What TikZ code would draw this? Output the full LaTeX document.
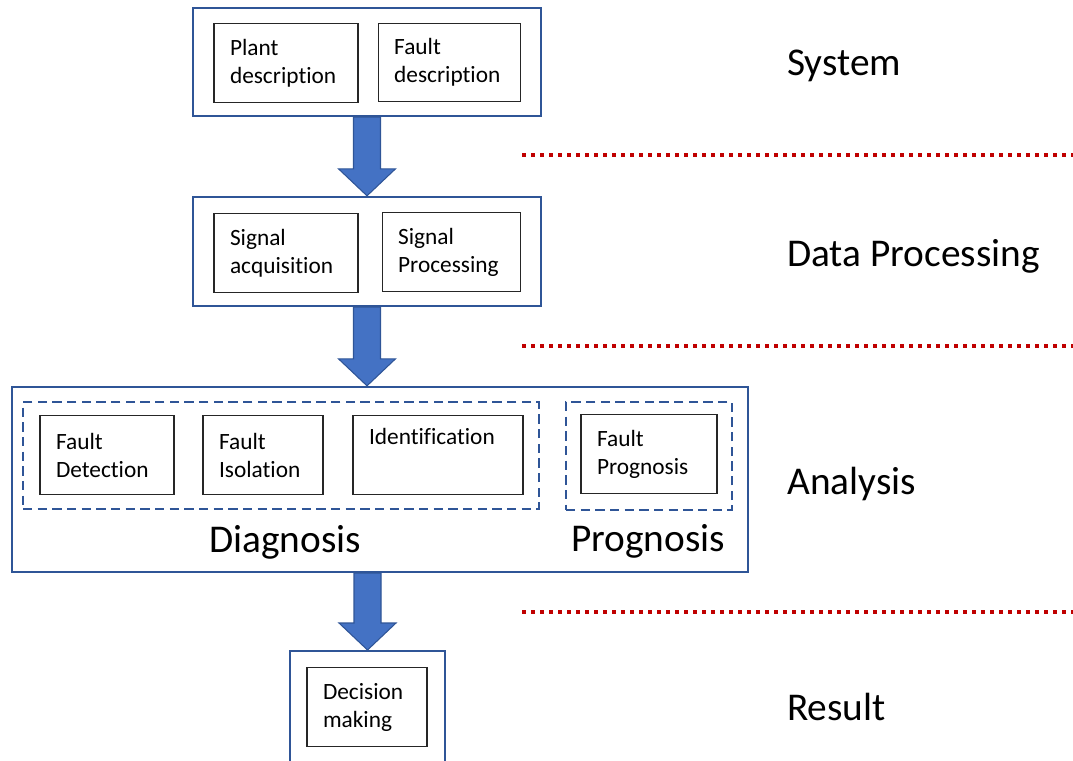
\documentclass[tikz,border=0pt]{standalone}
\usepackage{fontspec}
\setmainfont{Carlito}[Ligatures=NoCommon]
\usetikzlibrary{calc}
\definecolor{boxblue}{HTML}{2F5597}
\definecolor{arrowblue}{HTML}{4472C4}
\definecolor{sepred}{HTML}{C00000}
% block arrow from #1 down to tip #2
\newcommand{\blockarrow}[2]{%
	\draw[bigarrow] ($(#1)+(-13.5,0)$) -- ($(#2)+(-13.5,-27)$) -- ($(#2)+(-28.5,-27)$) -- (#2)
	-- ($(#2)+(28.5,-27)$) -- ($(#2)+(13.5,-27)$) -- ($(#1)+(13.5,0)$) -- cycle;}
\begin{document}
\begin{tikzpicture}[x=0.75pt,y=-0.75pt,
	outer/.style={draw=boxblue,line width=1.5pt,inner sep=0pt},
	dashbox/.style={draw=boxblue,line width=1.9pt,dash pattern=on 7pt off 4pt,inner sep=0pt},
	item/.style={draw=black!85,line width=0.9pt,align=left,inner xsep=12pt,inner ysep=0pt,
		text width=#1,minimum height=59pt,font=\fontsize{17.5}{21}\selectfont},
	bigarrow/.style={draw=boxblue,line width=0.8pt,fill=arrowblue},
	sepline/.style={draw=sepred,line width=3pt,dash pattern=on 3pt off 3.75pt},
	tag/.style={font=\fontsize{29.5}{35}\selectfont,inner sep=0pt}]
		\clip (0,0) rectangle (1073,760);
		% system
		\node[outer,minimum width=261pt,minimum height=81pt] (sys) at (367,62) {};
		\node[item=84pt] (plant) at (286,63) {Plant\\description};
		\node[item=83pt] (faultdesc) at (449.5,62.5) {Fault\\description};
		% data processing
		\node[outer,minimum width=261pt,minimum height=82pt] (proc) at (367,251.5) {};
		\node[item=84pt] (sigacq) at (286,253) {Signal\\acquisition};
		\node[item=80pt] (sigproc) at (451.5,252) {Signal\\Processing};
		% analysis
		\node[outer,minimum width=552pt,minimum height=139pt] (ana) at (380,479.5) {};
		\node[dashbox,minimum width=387pt,minimum height=80pt] (diagbox) at (281,455.5) {};
		\node[dashbox,minimum width=124.5pt,minimum height=81pt] (progbox) at (649,456) {};
		\node[item=76.5pt] (detect) at (107,455) {Fault\\Detection};
		\node[item=66pt] (isol) at (263,455) {Fault\\Isolation};
		\node[item=103.5pt] (ident) at (438,455) {Identification\\\strut};
		\node[item=78pt] (fprog) at (649,454) {Fault\\Prognosis};
		\node[tag,anchor=base] (diag) at (285,552) {Diagnosis};
		\node[tag,anchor=base] (prog) at (648,551) {Prognosis};
		% result
		\node[outer,minimum width=116pt,minimum height=111pt] (res) at (367.5,725) {};
		\node[item=66pt] (decision) at (367,707) {Decision\\making};
		% arrows
		\blockarrow{sys.south}{sys.south|-proc.north}
		\blockarrow{proc.south}{proc.south|-ana.north}
		\blockarrow{res.north|-ana.south}{res.north}
		% separators
		\coordinate (sep1a) at (522,155); \coordinate (sep1b) at (1073,155);
		\coordinate (sep2a) at (522,346); \coordinate (sep2b) at (1073,346);
		\coordinate (sep3a) at (522,612); \coordinate (sep3b) at (1073,612);
		\draw[sepline] (sep1a) -- (sep1b);
		\draw[sepline] (sep2a) -- (sep2b);
		\draw[sepline] (sep3a) -- (sep3b);
		% stage labels
		\node[tag,anchor=base west] (lsys) at (787,75) {System};
		\node[tag,anchor=base west] (lproc) at (787,266) {Data Processing};
		\node[tag,anchor=base west] (lana) at (787,494) {Analysis};
		\node[tag,anchor=base west] (lres) at (787,720) {Result};
	\end{tikzpicture}
\end{document}
